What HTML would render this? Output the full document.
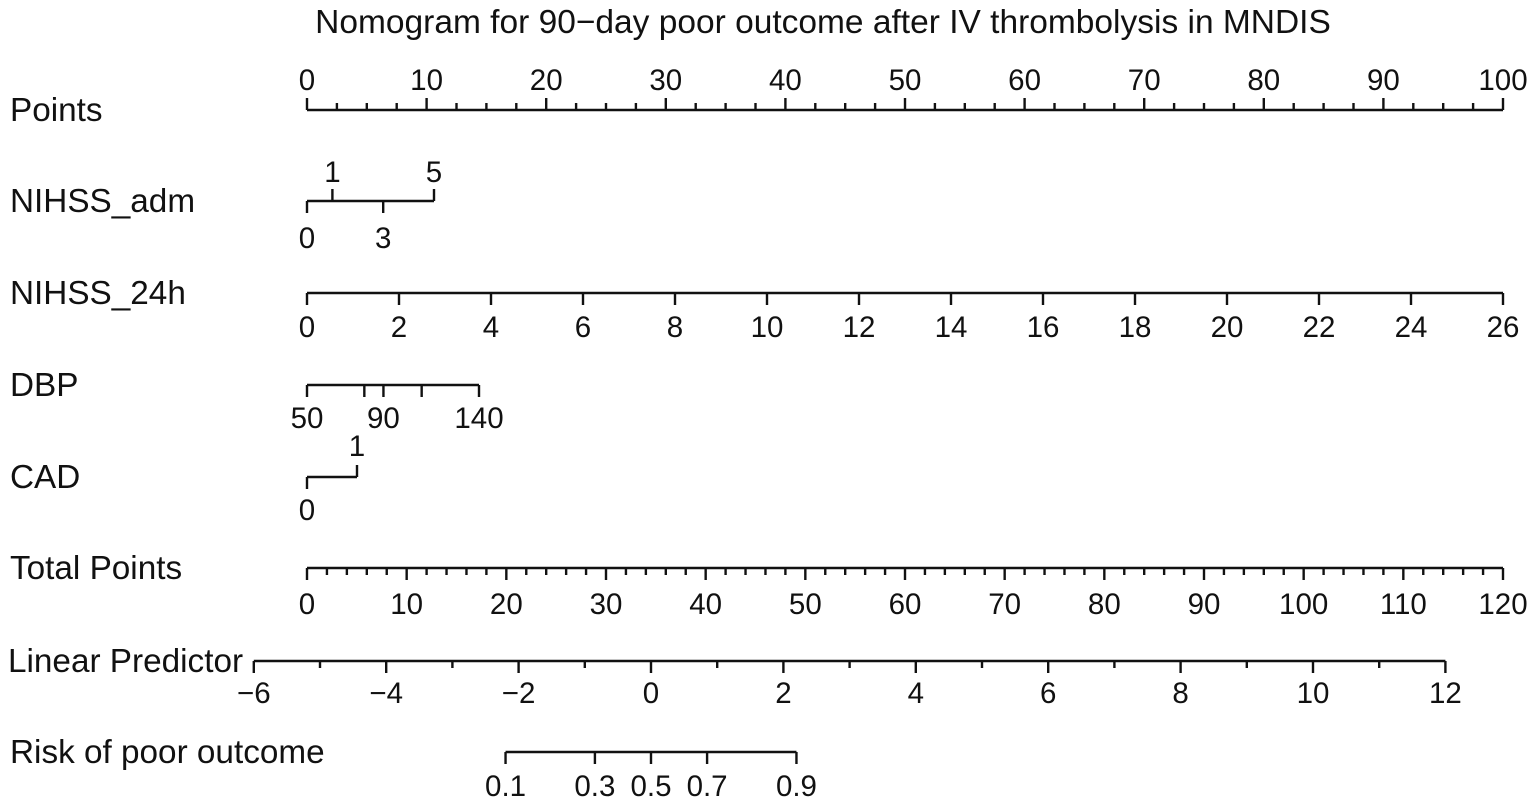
<!DOCTYPE html>
<html><head><meta charset="utf-8"><style>
html,body{margin:0;padding:0;background:#fff;}
svg{display:block;font-family:"Liberation Sans",Arial,sans-serif;}
text{fill:#111;}
</style></head><body>
<svg id="chart" width="1535" height="806" viewBox="0 0 1535 806" xmlns="http://www.w3.org/2000/svg">
<text x="823" y="33" text-anchor="middle" font-size="33.5">Nomogram for 90−day poor outcome after IV thrombolysis in MNDIS</text>
</svg>
<script>
const pointsTicks = [0,10,20,30,40,50,60,70,80,90,100];
const nihssAdmValues = [0,1,3,5];
const nihssAdmSide = ['down','up','down','up'];
const nihss24Values = [0,2,4,6,8,10,12,14,16,18,20,22,24,26];
const dbpValues = [50,80,90,110,140];
const dbpLabels = ['50','','90','','140'];
const cadValues = [0,1];
const totalTicks = [0,10,20,30,40,50,60,70,80,90,100,110,120];
const lpTicks = [-6,-4,-2,0,2,4,6,8,10,12];
const riskValues = [0.1,0.3,0.5,0.7,0.9];
const rowLabels = ['Points','NIHSS_adm','NIHSS_24h','DBP','CAD','Total Points','Linear Predictor','Risk of poor outcome'];

const svg = document.getElementById('chart');
const NS = 'http://www.w3.org/2000/svg';
const X0 = 307, X1 = 1503;
const xPts = v => X0 + (X1 - X0) * v / 100;
const xAdm = v => X0 + 25.4 * v;
const x24 = v => X0 + (X1 - X0) * v / 26;
const xDbp = v => X0 + (479 - X0) * (v - 50) / 90;
const xCad = v => X0 + 50 * v;
const xTot = v => X0 + (X1 - X0) * v / 120;
const xLp = v => 651 + 66.2 * v;
const xRisk = p => xLp(Math.log(p / (1 - p)));
const TICK_FS = 29.5, LABEL_FS = 33.3;

function line(x1,y1,x2,y2,name){
  const l = document.createElementNS(NS,'line');
  l.setAttribute('x1',x1);l.setAttribute('y1',y1);l.setAttribute('x2',x2);l.setAttribute('y2',y2);
  l.setAttribute('stroke','#111');l.setAttribute('stroke-width','2.4');
  
  
  svg.appendChild(l);
}
function txt(x,y,s,name,anchor,fs){
  const t = document.createElementNS(NS,'text');
  t.setAttribute('x',x);t.setAttribute('y',y);
  t.setAttribute('text-anchor',anchor||'middle');
  t.setAttribute('font-size',fs||TICK_FS);
  t.textContent = s;
  
  
  svg.appendChild(t);
}

const rowY = [110,201,293,385,477,568,661,752];
rowLabels.forEach((s,i)=>{
  txt(i===6?8:10, rowY[i]+11, s, 'row-label', 'start', LABEL_FS);
});

// Points
let y = rowY[0];
line(xPts(0),y,xPts(100),y,'points-axis-line');
for(let v=0; v<=100; v+=2.5){
  const major = v%10===0;
  line(xPts(v),y,xPts(v),y-(major?12:7),'points-tick');
}
pointsTicks.forEach(v=>txt(xPts(v),y-20,String(v),'points-tick-label'));

// NIHSS_adm
y = rowY[1];
line(xAdm(nihssAdmValues[0]),y,xAdm(nihssAdmValues[nihssAdmValues.length-1]),y,'nihss-adm-axis-line');
nihssAdmValues.forEach((v,i)=>{
  const up = nihssAdmSide[i]==='up';
  line(xAdm(v),y,xAdm(v),up?y-12:y+12,'nihss-adm-tick');
  txt(xAdm(v),up?y-19:y+47,String(v),'nihss-adm-tick-label');
});

// NIHSS_24h
y = rowY[2];
line(x24(0),y,x24(26),y,'nihss-24h-axis-line');
nihss24Values.forEach(v=>{
  line(x24(v),y,x24(v),y+12,'nihss-24h-tick');
  txt(x24(v),y+44,String(v),'nihss-24h-tick-label');
});

// DBP
y = rowY[3];
line(xDbp(dbpValues[0]),y,xDbp(dbpValues[dbpValues.length-1]),y,'dbp-axis-line');
dbpValues.forEach((v,i)=>{
  line(xDbp(v),y,xDbp(v),y+12,'dbp-tick');
  if(dbpLabels[i]) txt(xDbp(v),y+43,dbpLabels[i],'dbp-tick-label');
});

// CAD
y = rowY[4];
line(xCad(0),y,xCad(1),y,'cad-axis-line');
line(xCad(0),y,xCad(0),y+12,'cad-tick');
txt(xCad(0),y+43,String(cadValues[0]),'cad-tick-label');
line(xCad(1),y,xCad(1),y-12,'cad-tick');
txt(xCad(1),y-21,String(cadValues[1]),'cad-tick-label');

// Total Points
y = rowY[5];
line(xTot(0),y,xTot(120),y,'total-points-axis-line');
for(let v=0; v<=120; v+=2){
  const major = v%10===0;
  line(xTot(v),y,xTot(v),y+(major?12:7),'total-points-tick');
}
totalTicks.forEach(v=>txt(xTot(v),y+46,String(v),'total-points-tick-label'));

// Linear predictor
y = rowY[6];
line(xLp(-6),y,xLp(12),y,'linear-predictor-axis-line');
for(let v=-6; v<=12; v++){
  const major = v%2===0;
  line(xLp(v),y,xLp(v),y+(major?12:7),'linear-predictor-tick');
}
lpTicks.forEach(v=>txt(xLp(v),y+42,(v<0?'−':'')+Math.abs(v),'linear-predictor-tick-label'));

// Risk
y = rowY[7];
line(xRisk(riskValues[0]),y,xRisk(riskValues[riskValues.length-1]),y,'risk-axis-line');
riskValues.forEach(v=>{
  line(xRisk(v),y,xRisk(v),y+12,'risk-tick');
  txt(xRisk(v),y+44,v.toFixed(1),'risk-tick-label');
});
</script>
</body></html>
